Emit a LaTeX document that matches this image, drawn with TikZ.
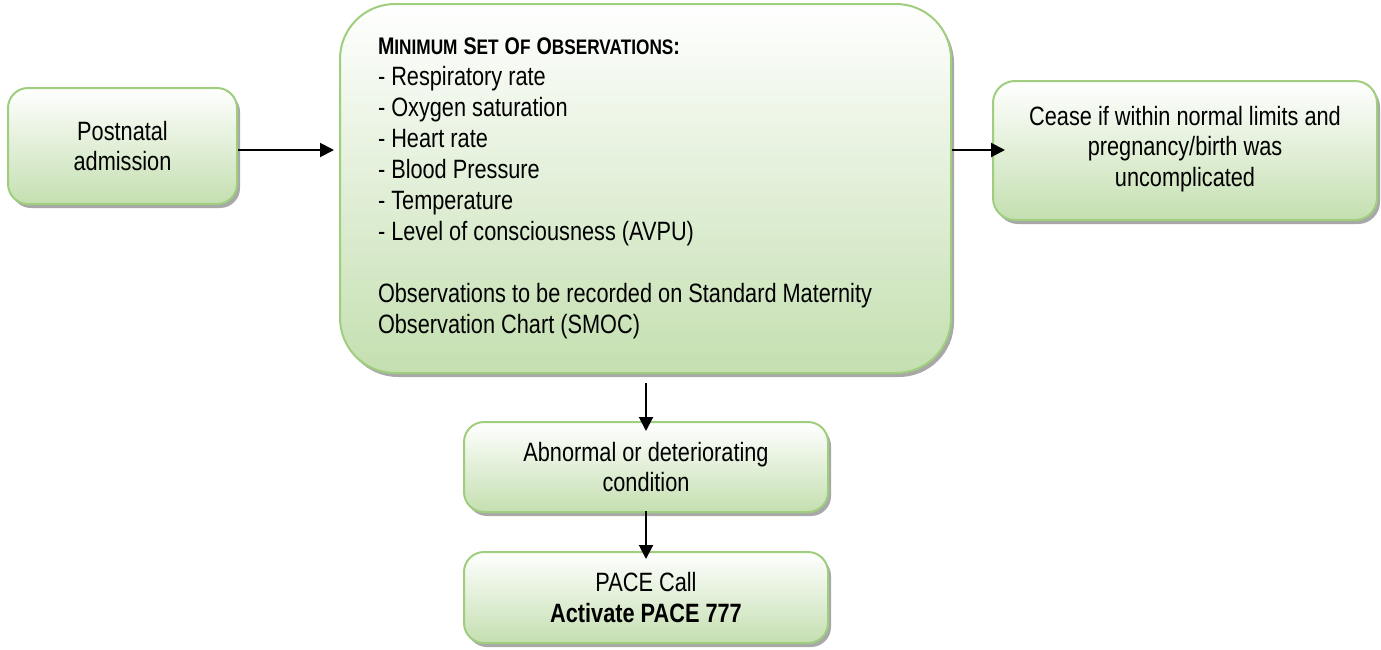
\documentclass[tikz,border=0pt]{standalone}
\usepackage{fontspec}
\setmainfont{Liberation Sans}[FakeStretch=0.82]
\usetikzlibrary{arrows.meta,shadows}
\definecolor{boxline}{RGB}{158,206,126}
\definecolor{boxbot}{RGB}{196,223,176}
\definecolor{boxtop}{RGB}{255,255,255}
\newcommand\hbig[1]{{\fontsize{24}{31}\selectfont #1}}
\newcommand\hsc[1]{{\fontsize{21}{31}\selectfont #1}}
\begin{document}
\begin{tikzpicture}[x=1pt,y=-1pt,
  box/.style={draw=boxline, line width=2pt, rounded corners=20pt,
    top color=boxtop, bottom color=boxbot,
    drop shadow={shadow xshift=3pt, shadow yshift=-4pt, fill=black!38, opacity=0.9},
    align=center, font=\fontsize{26.5}{30.5}\selectfont, inner sep=0pt},
  arr/.style={line width=2pt, -{Triangle[length=14pt,width=14pt]}}]
\useasboundingbox (0,0) rectangle (1381,649);

\node[box, minimum width=229pt, minimum height=116pt] (pn) at (122.5,146) {Postnatal\\admission};

\node[box, rounded corners=55pt, minimum width=611pt, minimum height=369pt,
  align=flush left, text width=535pt, inner xsep=38pt, font=\fontsize{26.5}{31}\selectfont] (obs) at (645.5,188.5)
  {{\bfseries \hbig{M}\hsc{INIMUM} \hbig{S}\hsc{ET} \hbig{O}\hsc{F} \hbig{O}\hsc{BSERVATIONS}\hbig{:}}\\
   - Respiratory rate\\
   - Oxygen saturation\\
   - Heart rate\\
   - Blood Pressure\\
   - Temperature\\
   - Level of consciousness (AVPU)\\[31pt]
   Observations to be recorded on Standard Maternity\\
   Observation Chart (SMOC)};

\node[box, rounded corners=22pt, minimum width=384pt, minimum height=139pt,
  text depth=9pt] (cease) at (1185,150.5)
  {Cease if within normal limits and\\pregnancy/birth was\\uncomplicated};

\node[box, minimum width=364pt, minimum height=90pt] (abn) at (646,467)
  {Abnormal or deteriorating\\condition};

\node[box, minimum width=364pt, minimum height=91pt] (pace) at (646,597.5)
  {PACE Call\\\textbf{Activate PACE 777}};

\coordinate (ay) at (0,150);
\draw[arr, shorten >=5pt] (pn.east |- ay) -- (obs.west |- ay);
\draw[arr, shorten >=-13pt] (obs.east |- ay) -- (cease.west |- ay);
\draw[arr, shorten <=9pt, shorten >=-10pt] (obs.south -| abn.north) -- (abn.north);
\draw[arr, shorten <=-2pt, shorten >=-8pt] (abn.south) -- (pace.north);
\end{tikzpicture}
\end{document}
